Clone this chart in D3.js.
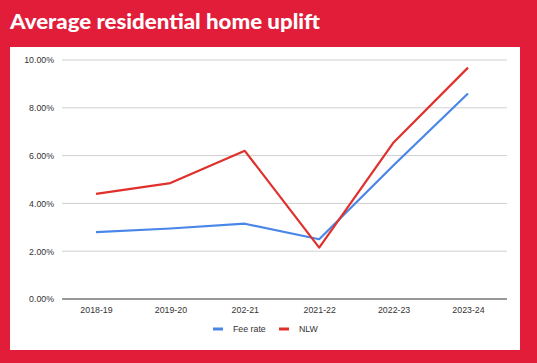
<!DOCTYPE html>
<html><head><meta charset="utf-8">
<script src="https://cdn.jsdelivr.net/npm/d3@7"></script>
<style>body{margin:0;background:#e11d3a;}svg{display:block;}</style>
</head><body>
<svg id="c" width="537" height="363"></svg>
<script>
const categories = ["2018-19","2019-20","202-21","2021-22","2022-23","2023-24"];
const feeRate = [2.8, 2.95, 3.15, 2.5, 5.6, 8.6];
const nlw = [4.4, 4.85, 6.2, 2.15, 6.55, 9.68];
const yTicks = [0, 2, 4, 6, 8, 10];
const seriesNames = ["Fee rate", "NLW"];
const seriesColors = ["#4a86e8", "#e0302c"];

const svg = d3.select("#c");
svg.append("rect").attr("width",537).attr("height",363).attr("fill","#e11d3a");
svg.append("text").attr("x",10).attr("y",29)
  .attr("font-family","Lato").attr("font-weight",900).attr("font-size",21)
  .attr("textLength",310).attr("lengthAdjust","spacingAndGlyphs")
  .attr("fill","#fff").text("Average residential home uplift");
svg.append("rect").attr("x",10).attr("y",47).attr("width",510).attr("height",303).attr("fill","#fff");

const x = d3.scalePoint().domain(categories).range([96,468]);
const y = d3.scaleLinear().domain([0,10]).range([299,60]);

const grid = svg.append("g");
yTicks.forEach(t=>{
  grid.append("line").attr("x1",62).attr("x2",507).attr("y1",y(t)).attr("y2",y(t))
    .attr("stroke", t===0 ? "#333" : "#d0d0d0").attr("stroke-width", t===0?1.2:1);
});
const yAxis = d3.axisLeft(y).tickValues(yTicks).tickSize(0).tickPadding(0)
  .tickFormat(d=>d.toFixed(2)+"%");
const ga = svg.append("g").attr("transform","translate(54,0)").call(yAxis);
ga.select(".domain").remove();
ga.selectAll("text").attr("font-family","Liberation Sans, Arial").attr("font-size",8.8).attr("fill","#333");

const xAxis = d3.axisBottom(x).tickSize(0).tickPadding(0);
const gx = svg.append("g").attr("transform","translate(0,307)").call(xAxis);
gx.select(".domain").remove();
gx.selectAll("text").attr("font-family","Liberation Sans, Arial").attr("font-size",8.8).attr("fill","#333").attr("dy","0.71em");

const line = d3.line().x((d,i)=>x(categories[i])).y(d=>y(d));
[feeRate, nlw].forEach((s,k)=>{
  svg.append("path").datum(s).attr("d",line).attr("fill","none")
    .attr("stroke",seriesColors[k]).attr("stroke-width",2.2).attr("stroke-linejoin","round");
});

const legX = [213, 279];
seriesNames.forEach((n,k)=>{
  svg.append("rect").attr("x",legX[k]).attr("y",327.5).attr("width",10).attr("height",3)
    .attr("fill",seriesColors[k]);
  svg.append("text").attr("x",legX[k]+20).attr("y",332).attr("font-family","Liberation Sans, Arial")
    .attr("font-size",8.8).attr("fill","#333").text(n);
});
</script>
</body></html>
